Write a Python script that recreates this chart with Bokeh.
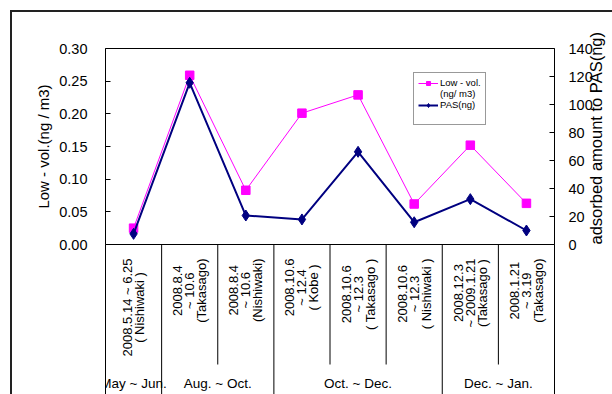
import math

from bokeh.core.properties import value
from bokeh.embed import file_html
from bokeh.layouts import column
from bokeh.models import (ColumnDataSource, FixedTicker, Legend, LegendItem,
                          LinearAxis, NumeralTickFormatter, Range1d)
from bokeh.plotting import figure
from bokeh.resources import INLINE

# Sampling periods and sites (one category per sampler run)
periods = [
    "2008.5.14 ~ 6.25\n( Nishiwaki )",
    "2008.8.4\n~ 10.6\n(Takasago)",
    "2008.8.4\n~ 10.6\n(Nishiwaki)",
    "2008.10.6\n~ 12.4\n( Kobe )",
    "2008.10.6\n~ 12.3\n( Takasago )",
    "2008.10.6\n~ 12.3\n( Nishiwaki )",
    "2008.12.3\n~ 2009.1.21\n(Takasago )",
    "2008.1.21\n~ 3.19\n(Takasago)",
]
# Season groups and how many periods fall in each
seasons = ["May ~ Jun.", "Aug. ~ Oct.", "Oct. ~ Dec.", "Dec. ~ Jan."]
season_sizes = [1, 2, 3, 2]

# Low-volume sampler concentration (ng/m3) and passive sampler amount (ng)
lowvol = [0.025, 0.259, 0.083, 0.201, 0.229, 0.062, 0.152, 0.063]
pas = [7.6, 115.5, 20.7, 17.9, 66.2, 15.9, 32.4, 10.0]

left_ticks = [0.00, 0.05, 0.10, 0.15, 0.20, 0.25, 0.30]
right_ticks = [0, 20, 40, 60, 80, 100, 120, 140]

LOW_COLOR = "#FF00FF"
PAS_COLOR = "#000080"
FONT = "Liberation Sans"

# Geometry (pixels)
PLOT_W = 449          # width of the plotting area
PLOT_H = 196          # height of the plotting area
BAND_H = 150          # height of the category band under the zero line
BORDER_L, BORDER_R, BORDER_T = 93, 58, 36
OVERLAP = 10          # room under the chart for the "0.00" / "0" tick labels

n = len(periods)
x_range = Range1d(0, n)


def bare_axis(**kw):
    return LinearAxis(ticker=FixedTicker(ticks=[]), major_tick_in=0, major_tick_out=0,
                      major_label_standoff=0, major_label_text_font_size="0px",
                      minor_tick_line_color=None, axis_line_color="black", **kw)


def style_axis(ax, standoff):
    ax.major_tick_in = 5
    ax.major_tick_out = 0
    ax.minor_tick_line_color = None
    ax.axis_line_color = "black"
    ax.major_tick_line_color = "black"
    ax.major_label_standoff = standoff
    ax.major_label_text_font = FONT
    ax.major_label_text_font_size = "14.5px"
    ax.major_label_text_color = "black"
    ax.axis_label_text_font = FONT
    ax.axis_label_text_font_style = "normal"
    ax.axis_label_text_color = "black"


# ---- chart: both series on twin y axes ----
p = figure(
    frame_width=PLOT_W, frame_height=PLOT_H,
    x_range=x_range, y_range=Range1d(0, left_ticks[-1]),
    x_axis_type=None, y_axis_type=None,
    output_backend="svg", toolbar_location=None,
    min_border_left=BORDER_L, min_border_right=BORDER_R,
    min_border_top=BORDER_T, min_border_bottom=OVERLAP,
)
p.outline_line_color = None
p.extra_y_ranges = {"pas": Range1d(0, right_ticks[-1])}

ax_left = LinearAxis(ticker=FixedTicker(ticks=left_ticks),
                     formatter=NumeralTickFormatter(format="0.00"),
                     axis_label="Low - vol.(ng / m3)")
style_axis(ax_left, 18)
ax_left.axis_label_standoff = 4
ax_left.axis_label_text_font_size = "15px"
p.add_layout(ax_left, "left")

ax_right = LinearAxis(y_range_name="pas", ticker=FixedTicker(ticks=right_ticks),
                      axis_label="adsorbed amount to PAS(ng)")
style_axis(ax_right, 14)
ax_right.axis_label_standoff = 0
ax_right.axis_label_text_font_size = "16.5px"
props = ax_right.properties()
if "axis_label_orientation" in props:
    # read bottom-to-top, like the left title
    ax_right.axis_label_orientation = math.pi / 2
    if "axis_label_align" in props:
        ax_right.axis_label_align = "start"
p.add_layout(ax_right, "right")

p.add_layout(bare_axis(), "above")

xs = [i + 0.5 for i in range(n)]
src = ColumnDataSource(dict(x=xs, lowvol=lowvol, pas=pas, period=periods))

r_low_line = p.line("x", "lowvol", source=src, line_color=LOW_COLOR, line_width=1)
r_low_pts = p.scatter("x", "lowvol", source=src, marker="square", size=8.5,
                      fill_color=LOW_COLOR, line_color=LOW_COLOR)
r_pas_line = p.line("x", "pas", source=src, y_range_name="pas",
                    line_color=PAS_COLOR, line_width=2)
r_pas_pts = p.scatter("x", "pas", source=src, y_range_name="pas", marker="diamond",
                      size=11, fill_color=PAS_COLOR, line_color=PAS_COLOR)

legend = Legend(
    items=[LegendItem(label="Low - vol.", renderers=[r_low_line, r_low_pts]),
           LegendItem(label="(ng/ m3)", renderers=[]),
           LegendItem(label="PAS(ng)", renderers=[r_pas_line, r_pas_pts]),
           LegendItem(label=" ", renderers=[])],
    location=(308, 119),
    margin=0, padding=4, spacing=0,
    glyph_width=20, glyph_height=10, label_height=10, label_standoff=2,
    label_text_font=FONT, label_text_font_size="9.5px", label_text_color="black",
    border_line_color="#333333", border_line_width=1.5,
    background_fill_color="white", background_fill_alpha=1.0,
)
p.add_layout(legend)

# ---- category band: period labels, dividers and season names ----
band = figure(
    frame_width=PLOT_W, frame_height=BAND_H,
    x_range=x_range, y_range=Range1d(BAND_H, 0),
    x_axis_type=None, y_axis_type=None,
    output_backend="svg", toolbar_location=None,
    min_border_left=BORDER_L, min_border_right=BORDER_R,
    min_border_top=0, min_border_bottom=0,
    background_fill_color=None, border_fill_color=None,
)
band.outline_line_color = None
band.margin = (-OVERLAP, 0, 0, 0)
band.add_layout(bare_axis(), "above")
band.add_layout(bare_axis(), "left")
band.add_layout(bare_axis(), "right")

season_bounds = []
acc = 0
for s in season_sizes[:-1]:
    acc += s
    season_bounds.append(acc)
inner_bounds = [b for b in range(1, n) if b not in season_bounds]
band.segment(x0=inner_bounds, y0=[0] * len(inner_bounds), x1=inner_bounds,
             y1=[120] * len(inner_bounds), line_color="black", line_width=1)
band.segment(x0=season_bounds, y0=[0] * len(season_bounds), x1=season_bounds,
             y1=[BAND_H] * len(season_bounds), line_color="black", line_width=1)

# period labels read bottom-to-top and hang from just under the zero line
band.text(x="x", y=14, text="period", source=src, angle=math.pi / 2,
          anchor=value("center_right"), text_align="center",
          text_font=value(FONT), text_font_size="13px", text_line_height=0.8,
          text_color="black")

season_x = []
acc = 0
for s in season_sizes:
    season_x.append(acc + s / 2)
    acc += s
band.text(x=season_x, y=[139] * len(seasons), text=seasons,
          text_align="center", text_baseline="middle",
          text_font=value(FONT), text_font_size="13.5px", text_color="black")

page = column(p, band, spacing=0,
              styles={"margin-left": "10px", "margin-top": "10px",
                      "border-left": "2px solid #222222",
                      "border-top": "2px solid #222222"})

open("out.html", "w").write(file_html(page, INLINE))
